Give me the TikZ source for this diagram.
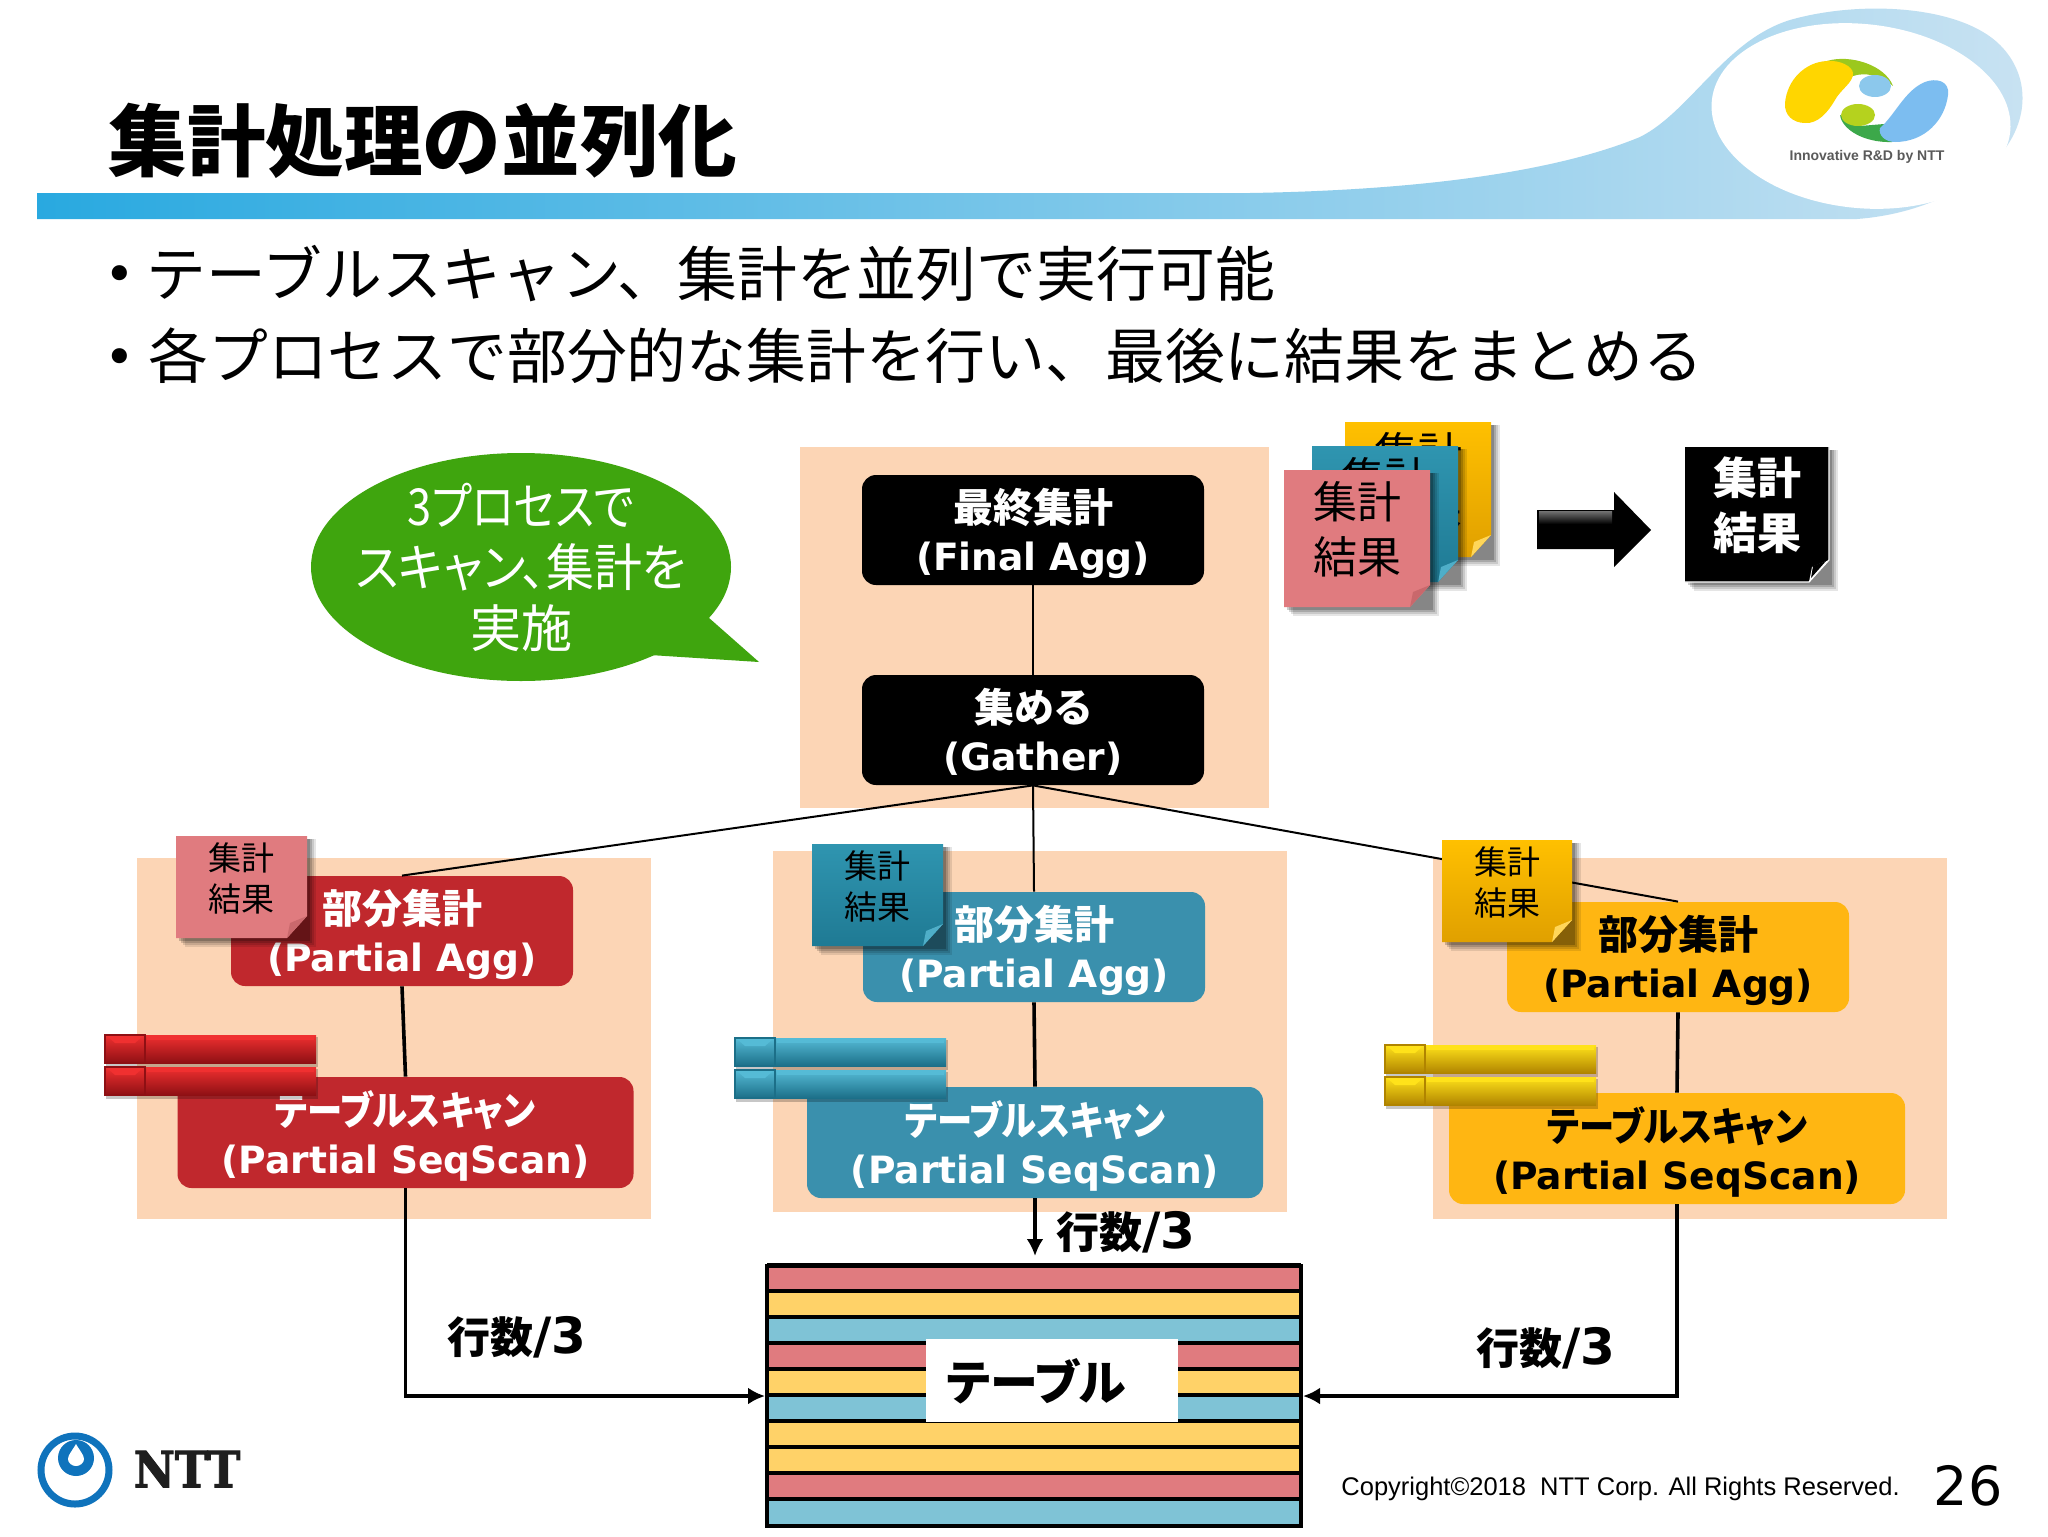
\documentclass[tikz,border=0pt]{standalone}
\usepackage{fontspec}
\usetikzlibrary{arrows.meta,calc,shadings}
\setmainfont{Noto Sans}
\newfontfamily\jp{Noto Sans CJK JP}
\newfontfamily\jpp[RawFeature={+palt}]{Noto Sans CJK JP}
\newfontfamily\lat{DejaVu Sans}
\newfontfamily\arial{Liberation Sans}
\newfontfamily\serifb[FakeBold=2]{DejaVu Serif}
\newfontfamily\dejavu{DejaVu Sans}
\definecolor{peach}{HTML}{FCD5B5}
\definecolor{redbox}{HTML}{C0282D}
\definecolor{tealbox}{HTML}{3A90AD}
\definecolor{yellowbox}{HTML}{FFB612}
\definecolor{rowred}{HTML}{E07B7F}
\definecolor{rowyellow}{HTML}{FFD268}
\definecolor{rowblue}{HTML}{7FC3D6}
\definecolor{callgreen}{HTML}{3FA50E}
\definecolor{nttblue}{HTML}{0F73BC}
\definecolor{barleft}{HTML}{29A9E0}
\definecolor{barmid}{HTML}{A5D3EC}
\definecolor{barright}{HTML}{C8E2F2}
\definecolor{logogreen}{HTML}{9BC81E}
\definecolor{logoyellow}{HTML}{FFD600}
\definecolor{logosky}{HTML}{8CC8EC}
\definecolor{logodeep}{HTML}{3CA84A}
\definecolor{logoolive}{HTML}{B5D21E}
\definecolor{logoblue}{HTML}{7CBDF0}
\definecolor{logotxt}{HTML}{5A5A5A}
\definecolor{ntttxt}{HTML}{1E1E1E}
\definecolor{noteTealTop}{HTML}{2F95B0}
\definecolor{noteTealBot}{HTML}{1F7A94}
\definecolor{noteTealFold}{HTML}{4FAEC8}
\definecolor{noteYelTop}{HTML}{FFC000}
\definecolor{noteYelBot}{HTML}{E0A000}
\definecolor{noteYelFold}{HTML}{FFD65A}
\definecolor{noteRedFold}{HTML}{C9686C}
\definecolor{barRedA}{HTML}{F03030}
\definecolor{barRedB}{HTML}{D8181E}
\definecolor{barRedC}{HTML}{8E1014}
\definecolor{barTealA}{HTML}{55BBD6}
\definecolor{barTealB}{HTML}{2BA5C8}
\definecolor{barTealC}{HTML}{1C6F88}
\definecolor{barYelA}{HTML}{FFE21A}
\definecolor{barYelB}{HTML}{F2C500}
\definecolor{barYelC}{HTML}{B08400}
\newcommand{\plab}[2]{\raisebox{-3.2pt}[\height][\depth]{\begin{tabular}{@{}c@{}}#1\\[0pt]{\lat\fontsize{18.8}{24}\selectfont #2}\end{tabular}}}
\tikzset{
  x=0.5pt,y=-0.5pt,
  proc/.style={rounded corners=7pt,inner sep=0pt,text=white,align=center,
    font=\jpp\bfseries\fontsize{20}{24}\selectfont},
  finalbox/.style={proc,fill=black,minimum width=171pt,minimum height=55pt},
  aggbox/.style={proc,minimum width=171pt,minimum height=55pt},
  scanbox/.style={proc,minimum width=228pt,minimum height=55.5pt},
  thin link/.style={line width=1pt,black},
  thick link/.style={line width=1.8pt,black},
  flow/.style={line width=1.8pt,black,-{Latex[length=8.5pt,width=8.5pt]}},
  rowcount/.style={inner sep=0pt,font=\jp\bfseries\fontsize{21.5}{26}\selectfont},
  notesmall/.style={inner sep=0pt,align=center,text=black,font=\jp\fontsize{16.5}{20.5}\selectfont},
  notelarge/.style={inner sep=0pt,align=center,text=black,font=\jp\fontsize{22}{27.5}\selectfont},
  notewhite/.style={inner sep=0pt,align=center,text=white,font=\jp\bfseries\fontsize{22}{27.5}\selectfont},
}
% x0 y0 x1 y1 top bottom fold name textstyle
\newcommand{\stickynote}[9]{%
  \foreach \s/\o in {9/.10,7/.12,5/.16,3/.20}{
    \fill[black,opacity=\o] (#1+\s,#2+3) rectangle (#3+\s,#4+\s);
  }
  \shade[top color=#5,bottom color=#6] (#1,#2) -- (#3,#2) -- (#3,#4-22) -- (#3-20,#4) -- (#1,#4) -- cycle;
  \fill[#7] (#3,#4-22) -- (#3-17,#4-15) -- (#3-20,#4) -- cycle;
  \node[#9] (#8) at ({(#1+#3)/2},{(#2+#4)/2-9}) {集計\\結果};
}
% x y light mid dark
\newcommand{\stripes}[5]{%
  \foreach \r in {0,32}{
    \fill[black,opacity=.22] (#1+1,#2+\r+2) rectangle (#1+213,#2+\r+32);
    \shade[top color=#3,middle color=#4,bottom color=#5] (#1,#2+\r) rectangle (#1+40,#2+\r+28);
    \shade[top color=#3,middle color=#4,bottom color=#5] (#1+40,#2+\r) rectangle (#1+211,#2+\r+28);
    \fill[#3] (#1+2,#2+\r+1) -- (#1+38,#2+\r+1) -- (#1+30,#2+\r+8) -- (#1+10,#2+\r+8) -- cycle;
    \fill[#3] (#1+42,#2+\r+1) rectangle (#1+209,#2+\r+5);
    \draw[#5,line width=.8pt] (#1+40,#2+\r) -- (#1+40,#2+\r+28);
    \draw[#5,line width=.6pt] (#1,#2+\r) rectangle (#1+40,#2+\r+28);
  }
}
\begin{document}
\begin{tikzpicture}
\useasboundingbox (0,0) rectangle (2048,1536);
\fill[white] (0,0) rectangle (2048,1536);

% header swoosh
\shade[left color=barleft,middle color=barmid,right color=barright]
  (37,193) -- (1250,193) .. controls (1430,190) and (1560,170) .. (1640,137)
  .. controls (1690,112) and (1725,40) .. (1790,20)
  .. controls (1860,0) and (1960,5) .. (2000,45)
  .. controls (2030,75) and (2030,120) .. (2000,155)
  .. controls (1965,195) and (1910,215) .. (1857,219) -- (37,219) -- cycle;
\fill[white,rotate around={-6:(1861,116)}] (1861,116) ellipse [x radius=150,y radius=92];

% logo mark
\fill[logogreen] (1827,61) .. controls (1850,54) and (1885,65) .. (1893,86) .. controls (1880,75) and (1865,72) .. (1853,76) -- cycle;
\fill[logoyellow] (1785,103) .. controls (1787,80) and (1805,62) .. (1827,61) .. controls (1840,60) and (1852,66) .. (1853,73) .. controls (1854,82) and (1840,90) .. (1835,100) .. controls (1828,112) and (1818,124) .. (1805,123) .. controls (1793,123) and (1784,115) .. (1785,103) -- cycle;
\fill[logosky] (1875,86) ellipse [x radius=16,y radius=11];
\fill[logodeep] (1840,115) .. controls (1842,130) and (1865,143) .. (1892,142) -- (1884,124) -- (1860,126) -- cycle;
\fill[logoolive] (1858,115) ellipse [x radius=17,y radius=11];
\fill[logoblue] (1948,95) .. controls (1950,80) and (1935,78) .. (1925,82) .. controls (1905,90) and (1895,115) .. (1880,128) .. controls (1878,135) and (1885,142) .. (1895,142) .. controls (1925,142) and (1945,120) .. (1948,95) -- cycle;
\node[inner sep=0pt,text=logotxt,font=\arial\bfseries\fontsize{7}{8}\selectfont] (logotext) at (1867,157) {Innovative R\&D by NTT};

% title and bullets
\node[anchor=west,inner sep=0pt,font=\jp\bfseries\fontsize{39.3}{44}\selectfont] (title) at (108,141) {集計処理の並列化};
\node[inner sep=0pt,font=\dejavu\fontsize{26}{28}\selectfont] (bullet1) at (120,279) {•};
\node[inner sep=0pt,font=\dejavu\fontsize{26}{28}\selectfont] (bullet2) at (120,362) {•};
\node[anchor=west,inner sep=0pt,font=\jp\fontsize{29.9}{34}\selectfont] (line1) at (146,274) {テーブルスキャン、集計を並列で実行可能};
\node[anchor=west,inner sep=0pt,font=\jp\fontsize{29.9}{34}\selectfont] (line2) at (148,356) {各プロセスで部分的な集計を行い、最後に結果をまとめる};

% panels
\fill[peach] (800,447) rectangle (1269,808);
\fill[peach] (137,858) rectangle (651,1219);
\fill[peach] (773,851) rectangle (1287,1212);
\fill[peach] (1433,858) rectangle (1947,1219);

% callout
\fill[callgreen] (521,567) ellipse [x radius=210,y radius=114];
\fill[callgreen] (650,655) -- (759,662) -- (700,610) -- cycle;
\node[inner sep=0pt,align=center,text=white,font=\jpp\fontsize{25.5}{30.5}\selectfont] (callout) at (521,567) {\scalebox{.85}[1]{3プロセスで}\\\scalebox{.94}[1]{スキャン、集計を}\\実施};

% process nodes
\node[finalbox] (final) at (1033,530) {\plab{最終集計}{(Final Agg)}};
\node[finalbox] (gather) at (1033,730) {\plab{集める}{(Gather)}};
\node[aggbox,fill=redbox] (lagg) at (402,931) {\plab{部分集計}{(Partial Agg)}};
\node[scanbox,fill=redbox] (lscan) at (405.5,1132.5) {\plab{\scalebox{.885}[1]{テーブルスキャン}}{(Partial SeqScan)}};
\node[aggbox,fill=tealbox] (magg) at (1034,947) {\plab{部分集計}{(Partial Agg)}};
\node[scanbox,fill=tealbox] (mscan) at (1035,1142.5) {\plab{\scalebox{.885}[1]{テーブルスキャン}}{(Partial SeqScan)}};
\node[aggbox,fill=yellowbox,text=black] (ragg) at (1678,957) {\plab{部分集計}{(Partial Agg)}};
\node[scanbox,fill=yellowbox,text=black] (rscan) at (1677,1148.5) {\plab{\scalebox{.885}[1]{テーブルスキャン}}{(Partial SeqScan)}};

% table
\foreach \i/\c in {0/rowred,1/rowyellow,2/rowblue,3/rowred,4/rowyellow,5/rowblue,6/rowyellow,7/rowyellow,8/rowred,9/rowblue}{
  \fill[\c] (767,1265+26*\i) rectangle (1301,1291+26*\i);
  \draw[black,line width=2pt] (767,1265+26*\i) -- (1301,1265+26*\i);
}
\node[draw=black,line width=2pt,minimum width=267pt,minimum height=130pt,inner sep=0pt] (table) at (1034,1396) {};
\node[fill=white,minimum width=126pt,minimum height=41.5pt,inner sep=0pt] (tablebox) at (1052,1380) {};
\node[inner sep=0pt,font=\jpp\bfseries\fontsize{24}{28}\selectfont] (tablelabel) at (1036,1381) {テーブル};

% connectors
\draw[thin link] (final.south) -- (gather.north);
\draw[thin link] (gather.south) -- (lagg.north);
\draw[thin link] (gather.south) -- (magg.north);
\draw[thin link] (gather.south) -- (ragg.north);
\draw[thick link] (lagg.south) -- (lscan.north);
\draw[thick link] (magg.south) -- (mscan.north);
\draw[thick link] (ragg.south) -- (rscan.north);
\draw[flow] (lscan.south) |- (table.west);
\draw[flow] (rscan.south) |- (table.east);
\draw[flow,shorten >=4pt] (mscan.south) -- (mscan.south |- table.north);

% row count labels
\node[rowcount] (lcount) at (517,1337) {行数{\lat\fontsize{25}{26}\selectfont /3}};
\node[rowcount] (mcount) at (1126,1232) {行数{\lat\fontsize{25}{26}\selectfont /3}};
\node[rowcount] (rcount) at (1546,1348) {行数{\lat\fontsize{25}{26}\selectfont /3}};

% bars
\stripes{105}{1035}{barRedA}{barRedB}{barRedC}
\stripes{735}{1038}{barTealA}{barTealB}{barTealC}
\stripes{1385}{1045}{barYelA}{barYelB}{barYelC}

% small notes
\stickynote{176}{836}{307}{938}{rowred}{rowred}{noteRedFold}{lnote}{notesmall}
\stickynote{812}{844}{943}{946}{noteTealTop}{noteTealBot}{noteTealFold}{mnote}{notesmall}
\stickynote{1442}{840}{1572}{942}{noteYelTop}{noteYelBot}{noteYelFold}{rnote}{notesmall}

% stacked notes
\stickynote{1345}{422}{1491}{557}{noteYelTop}{noteYelBot}{noteYelFold}{bignotec}{notelarge}
\stickynote{1312}{446}{1458}{582}{noteTealTop}{noteTealBot}{noteTealFold}{bignoteb}{notelarge}
\stickynote{1284}{470}{1430}{607}{rowred}{rowred}{noteRedFold}{bignotea}{notelarge}

% big arrow
\fill[black] (1537,510) -- (1614,510) -- (1614,492) -- (1651,530) -- (1614,567) -- (1614,549) -- (1537,549) -- cycle;
\shade[top color=black!55,bottom color=black] (1539,511) rectangle (1612,524);

% merged result note
\stickynote{1685}{447}{1829}{582}{black}{black}{white}{resultnote}{notewhite}
\fill[black] (1826,561) -- (1813,566) -- (1811,578) -- cycle;
\draw[white,line width=.6pt] (1685,582) -- (1809,582) -- (1829,560) -- (1829,447);

% NTT logo
\draw[nttblue,line width=3.5pt] (75,1470) circle [radius=34];
\fill[nttblue] (76,1458) circle [radius=18];
\fill[white] (76,1444) .. controls (80,1451) and (84,1455) .. (84,1459) .. controls (84,1463) and (80,1466) .. (76,1466) .. controls (72,1466) and (68,1463) .. (68,1459) .. controls (68,1455) and (72,1451) .. (76,1444) -- cycle;
\node[inner sep=0pt,text=ntttxt,font=\serifb\bfseries\fontsize{25}{28}\selectfont,xscale=.9] (nttmark) at (187,1469) {NTT};

% footer
\node[anchor=west,inner sep=0pt,font=\arial\fontsize{12.75}{16}\selectfont] (copy) at (1341,1489) {Copyright©2018\ \ NTT Corp. All Rights Reserved.};
\node[inner sep=0pt,font=\dejavu\fontsize{27}{30}\selectfont] (pagenum) at (1968,1486) {26};
\end{tikzpicture}
\end{document}
